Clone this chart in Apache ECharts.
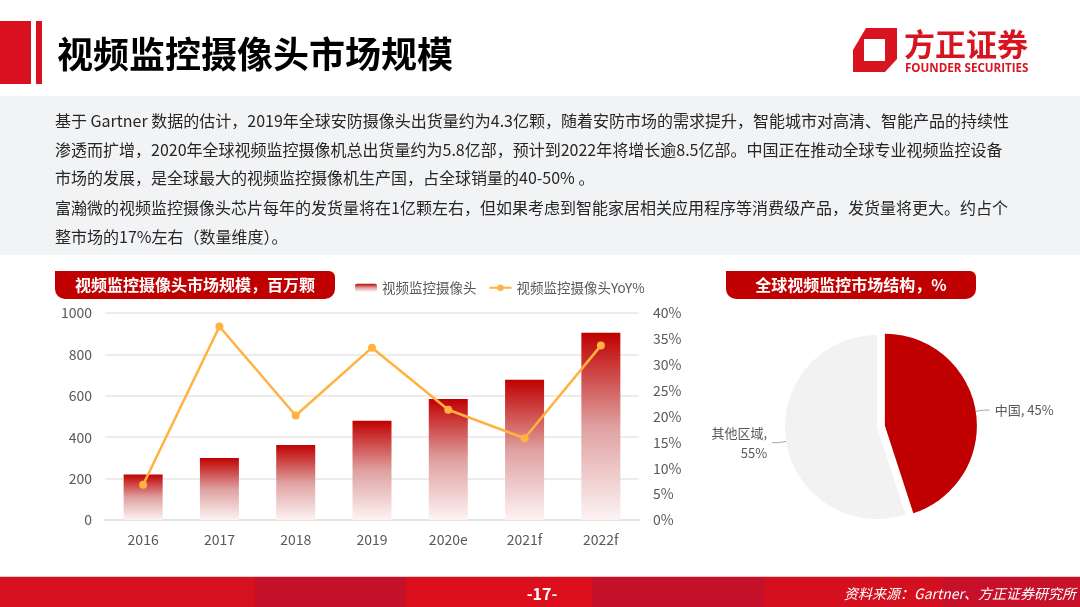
<!DOCTYPE html>
<html>
<head>
<meta charset="utf-8">
<script src="https://cdn.jsdelivr.net/npm/echarts@6/dist/echarts.min.js"></script>
<style>
html,body{margin:0;padding:0;background:#fff;}
#c{width:1080px;height:607px;}
</style>
</head>
<body>
<div id="c"></div>
<script>
const categories = ['2016', '2017', '2018', '2019', '2020e', '2021f', '2022f'];
const shipments = [220, 300, 362, 480, 585, 678, 905];
const yoy = [6.8, 37.4, 20.2, 33.3, 21.3, 15.8, 33.7];
const leftTicks = { min: 0, max: 1000, interval: 200 };
const rightTicks = { min: 0, max: 40, interval: 5 };
const pieNames = ['中国', '其他区域'];
const pieValues = [45, 55];
const seriesNames = ['视频监控摄像头', '视频监控摄像头YoY%'];
const bodyLines = [
  '基于 Gartner 数据的估计，2019年全球安防摄像头出货量约为4.3亿颗，随着安防市场的需求提升，智能城市对高清、智能产品的持续性',
  '渗透而扩增，2020年全球视频监控摄像机总出货量约为5.8亿部，预计到2022年将增长逾8.5亿部。中国正在推动全球专业视频监控设备',
  '市场的发展，是全球最大的视频监控摄像机生产国，占全球销量的40-50% 。',
  '富瀚微的视频监控摄像头芯片每年的发货量将在1亿颗左右，但如果考虑到智能家居相关应用程序等消费级产品，发货量将更大。约占个',
  '整市场的17%左右（数量维度）。'
];

const FONT = '"Noto Sans CJK SC", "Noto Sans", sans-serif';
const chart = echarts.init(document.getElementById('c'), null, { renderer: 'canvas' });

const graphics = [];
// gray text band
graphics.push({ type: 'rect', shape: { x: 0, y: 96, width: 1080, height: 159 }, style: { fill: '#F2F3F5' }, z: -10 });
// title bars
graphics.push({ type: 'rect', shape: { x: 0, y: 21, width: 31, height: 63 }, style: { fill: '#D9101E' } });
graphics.push({ type: 'rect', shape: { x: 36, y: 21, width: 6, height: 63 }, style: { fill: '#D9101E' } });
graphics.push({ type: 'text', x: 57, y: 54, style: { text: '视频监控摄像头市场规模', font: 'bold 36px ' + FONT, fill: '#000', textVerticalAlign: 'middle' } });
// logo
graphics.push({ type: 'polygon', shape: { points: [[866, 28], [897, 28], [897, 59], [885, 72], [853, 72], [853, 50]] }, style: { fill: '#D7141F' } });
graphics.push({ type: 'rect', shape: { x: 864, y: 39, width: 21, height: 22 }, style: { fill: '#fff' } });
graphics.push({ type: 'text', x: 904, y: 44, style: { text: '方正证券', font: 'bold 31px ' + FONT, fill: '#D7141F', textVerticalAlign: 'middle' } });
graphics.push({ type: 'text', x: 905, y: 69, style: { text: 'FOUNDER SECURITIES', font: 'bold 11.6px "Open Sans", sans-serif', fill: '#D7141F', textVerticalAlign: 'middle' } });
// body text
const lineY = [121, 150, 178, 208, 237];
bodyLines.forEach((t, i) => {
  graphics.push({ type: 'text', x: 55, y: lineY[i], style: { text: t, font: '16px ' + FONT, fill: '#262626', textVerticalAlign: 'middle' } });
});
// section headers
graphics.push({ type: 'rect', shape: { x: 55, y: 271, width: 280, height: 28, r: [0, 6, 10, 10] }, style: { fill: '#C00000' } });
graphics.push({ type: 'text', x: 195, y: 285, style: { text: '视频监控摄像头市场规模，百万颗', font: 'bold 16px ' + FONT, fill: '#fff', textAlign: 'center', textVerticalAlign: 'middle' } });
graphics.push({ type: 'rect', shape: { x: 726, y: 271, width: 250, height: 28, r: [0, 6, 10, 10] }, style: { fill: '#C00000' } });
graphics.push({ type: 'text', x: 851, y: 285, style: { text: '全球视频监控市场结构，%', font: 'bold 16px ' + FONT, fill: '#fff', textAlign: 'center', textVerticalAlign: 'middle' } });
// footer
const footerStripes = [[0, 255, '#D5101F'], [255, 406, '#C41028'], [406, 592, '#DA0F1B'], [592, 764, '#C5102A'], [764, 943, '#D4101F'], [943, 1080, '#C71029']];
footerStripes.forEach(s => {
  graphics.push({ type: 'rect', shape: { x: s[0], y: 577, width: s[1] - s[0], height: 30 }, style: { fill: s[2] } });
});
graphics.push({ type: 'rect', shape: { x: 0, y: 576, width: 1080, height: 1 }, style: { fill: '#E8C8C8' } });
graphics.push({ type: 'text', x: 542, y: 594, style: { text: '-17-', font: 'bold 16px ' + FONT, fill: '#fff', textAlign: 'center', textVerticalAlign: 'middle' } });
graphics.push({ type: 'text', x: 1076, y: 594, style: { text: '资料来源：Gartner、方正证券研究所', font: 'italic 14px ' + FONT, fill: '#fff', textAlign: 'right', textVerticalAlign: 'middle' } });

const barGradient = new echarts.graphic.LinearGradient(0, 0, 0, 1, [
  { offset: 0, color: '#C00000' },
  { offset: 0.5, color: '#DFA0A0' },
  { offset: 1, color: '#FDF3F3' }
]);

const option = {
  animation: false,
  textStyle: { fontFamily: FONT },
  graphic: graphics,
  legend: {
    left: 350, top: 276,
    itemWidth: 22, itemHeight: 8, itemGap: 12,
    textStyle: { fontSize: 13.5, color: '#595959', fontFamily: FONT },
    data: seriesNames
  },
  grid: { left: 105, right: 441, top: 313, bottom: 87, containLabel: false },
  xAxis: {
    type: 'category', data: categories,
    axisLine: { lineStyle: { color: '#E0E0E0', width: 1.5 } },
    axisTick: { show: false },
    axisLabel: { fontSize: 14, color: '#595959', margin: 13 }
  },
  yAxis: [
    {
      type: 'value', min: leftTicks.min, max: leftTicks.max, interval: leftTicks.interval,
      axisLine: { show: false }, axisTick: { show: false },
      splitLine: { lineStyle: { color: '#E6E6E6', width: 1.5 } },
      axisLabel: { fontSize: 14, color: '#595959', margin: 13, formatter: function (v) { return String(v); } }
    },
    {
      type: 'value', min: rightTicks.min, max: rightTicks.max, interval: rightTicks.interval,
      axisLine: { show: false }, axisTick: { show: false },
      splitLine: { show: false },
      axisLabel: { fontSize: 14, color: '#595959', margin: 14, formatter: function (v) { return v + '%'; } }
    }
  ],
  series: [
    {
      name: seriesNames[0], type: 'bar', data: shipments, barWidth: 39,
      itemStyle: { color: barGradient }
    },
    {
      name: seriesNames[1], type: 'line', yAxisIndex: 1, data: yoy,
      symbol: 'circle', symbolSize: 8,
      lineStyle: { color: '#FFB23F', width: 2.5 },
      itemStyle: { color: '#FFB23F' }
    },
    {
      type: 'pie', center: [877, 427], radius: 92,
      startAngle: 90, clockwise: true,
      selectedMode: 'single', selectedOffset: 8,
      label: { fontSize: 13, color: '#595959', formatter: '{b}, {d}%' },
      labelLine: { length: 8, length2: 6, lineStyle: { color: '#A6A6A6' } },
      emphasis: { disabled: true },
      select: { itemStyle: { borderWidth: 0 } },
      data: pieNames.map((n, i) => ({
        name: n, value: pieValues[i], selected: i === 0,
        itemStyle: { color: i === 0 ? '#C00000' : '#F2F2F2' },
        label: i === 0 ? {} : { formatter: '{b},\n{d}%', align: 'center', lineHeight: 20 }
      }))
    }
  ]
};
chart.setOption(option);
</script>
</body>
</html>
